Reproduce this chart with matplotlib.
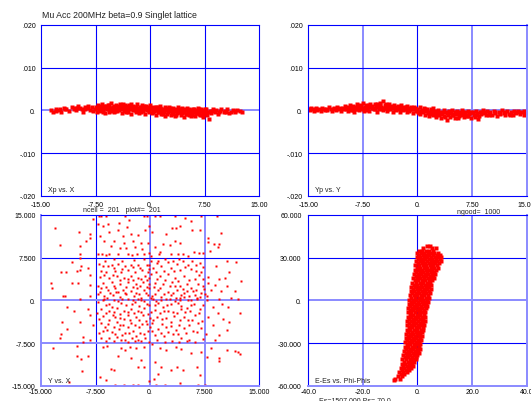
import matplotlib
matplotlib.use('Agg')
import matplotlib.pyplot as plt

plt.rcParams['font.family'] = ['Liberation Sans', 'DejaVu Sans']

W, H = 531, 402
title = 'Mu Acc 200MHz beta=0.9 Singlet lattice'

# tick values / labels
x_ticks = [-15, -7.5, 0, 7.5, 15]
x_labels = ['-15.00', '-7.50', '0.', '7.50', '15.00']
xp_ticks = [-0.02, -0.01, 0, 0.01, 0.02]
xp_labels = ['-.020', '-.010', '0.', '.010', '.020']
yy_ticks = [-15, -7.5, 0, 7.5, 15]
yy_labels = ['-15.000', '-7.500', '0.', '7.500', '15.000']
phi_ticks = [-40, -20, 0, 20, 40]
phi_labels = ['-40.0', '-20.0', '0.', '20.0', '40.0']
de_ticks = [-60, -30, 0, 30, 60]
de_labels = ['-60.000', '-30.000', '0.', '30.000', '60.000']

# Xp vs. X  (x, xp)
xp_x = [(-13.6,.0000),(-13.4,-.0005),(-13.0,.0003),(-12.7,.0001),(-12.4,.0002),(-12.2,-.0004),
        (-11.9,.0006),(-11.5,.0002),(-11.2,-.0002),(-10.8,.0008),(-10.5,.0004),(-10.2,.0000),
        (-10.0,.0005),(-9.9,.0011),(-9.7,.0006),(-9.4,.0003),(-9.2,-.0003),(-8.9,.0009),
        (-8.6,.0005),(-8.3,.0001),(-8.0,.0007),(-7.8,-.0002),(-7.6,.0004),
        (-7.4,.0009),(-7.3,-.0004),(-7.1,.0012),(-7.0,.0003),(-6.9,-.0001),(-6.7,.0007),(-6.6,.0015),
        (-6.5,.0000),(-6.3,.0005),(-6.2,-.0006),(-6.0,.0010),(-5.9,.0002),(-5.8,.0013),(-5.6,-.0003),
        (-5.5,.0006),(-5.4,.0017),(-5.2,.0001),(-5.1,.0009),(-5.0,-.0005),(-4.8,.0004),(-4.7,.0012),
        (-4.6,-.0002),(-4.4,.0007),(-4.3,.0000),(-4.2,.0015),(-4.0,.0003),(-3.9,-.0007),(-3.8,.0010),
        (-3.6,.0005),(-3.5,-.0001),(-3.4,.0013),(-3.2,.0002),(-3.1,.0008),(-3.0,-.0004),(-2.8,.0006),
        (-2.7,.0016),(-2.6,-.0008),(-2.4,.0001),(-2.3,.0011),(-2.2,.0004),(-2.0,-.0003),(-1.9,.0009),
        (-1.8,.0014),(-1.6,.0000),(-1.5,-.0006),(-1.4,.0007),(-1.2,.0003),(-1.1,.0012),(-1.0,-.0002),
        (-0.8,.0005),(-0.7,-.0009),(-0.6,.0010),(-0.4,.0001),(-0.3,.0006),(-0.2,-.0004),(0.0,.0013),
        (0.1,.0002),(0.2,-.0007),(0.4,.0008),(0.5,-.0001),(0.6,.0004),(0.8,-.0011),(0.9,.0009),
        (1.0,.0000),(1.2,-.0005),(1.3,.0006),(1.4,.0011),(1.6,-.0002),(1.7,.0003),(1.8,-.0008),
        (2.0,.0007),(2.1,-.0013),(2.2,.0001),(2.4,.0005),(2.5,-.0004),(2.6,.0009),(2.8,-.0010),
        (2.9,.0002),(3.0,-.0006),(3.2,.0006),(3.3,-.0001),(3.4,-.0014),(3.6,.0003),(3.7,-.0007),
        (3.8,.0008),(4.0,-.0003),(4.1,.0001),(4.2,-.0011),(4.4,.0005),(4.5,-.0005),(4.6,-.0016),
        (4.8,.0002),(4.9,-.0008),(5.0,.0006),(5.2,-.0002),(5.3,-.0012),(5.4,.0003),(5.6,-.0006),
        (5.7,.0000),(5.8,-.0010),(6.0,.0004),(6.1,-.0004),(6.2,-.0014),(6.4,.0001),(6.5,-.0007),
        (6.6,.0005),(6.8,-.0002),(6.9,-.0011),(7.0,.0003),(7.2,-.0005),(7.3,-.0015),(7.4,.0000),
        (7.6,-.0008),(7.7,.0004),(7.9,-.0003),
        (-6.8,.0001),(-6.4,.0011),(-5.7,.0004),(-5.3,-.0002),(-4.9,.0010),(-4.5,.0002),(-4.1,.0006),
        (-3.7,.0014),(-3.3,-.0005),(-2.9,.0003),(-2.5,.0008),(-2.1,.0000),(-1.7,.0005),(-1.3,-.0004),
        (-0.9,.0011),(-0.5,.0003),(-0.1,-.0001),(0.3,.0005),(0.7,.0001),(1.1,-.0003),(1.5,.0004),
        (1.9,-.0004),(2.3,.0003),(2.7,-.0001),(3.1,-.0009),(3.5,.0000),(3.9,-.0005),(4.3,.0002),
        (4.7,-.0003),(5.1,-.0009),(5.5,.0001),(5.9,-.0004),(6.3,-.0001),(6.7,-.0009),(7.1,-.0002),
        (7.5,.0002),(8.1,-.0020),
        (8.2,-.0001),(8.4,-.0006),(8.6,.0003),(8.9,-.0004),(9.1,.0000),(9.3,-.0008),(9.6,-.0002),
        (9.8,.0004),(10.1,-.0005),(10.3,-.0001),(10.6,.0002),(10.8,-.0006),(11.1,-.0003),(11.4,.0001),
        (11.7,-.0004),(12.0,.0000),(12.3,-.0002),(12.6,-.0003),
        (-7.3,.0006),(-6.95,.0010),(-6.45,-.0003),(-6.05,.0007),(-5.65,.0012),(-5.25,.0006),
        (-4.85,-.0001),(-4.45,.0011),(-4.05,.0009),(-3.65,.0001),(-3.25,.0010),(-2.85,.0012),
        (-2.45,.0003),(-2.05,.0007),(-1.65,-.0002),(-1.25,.0009),(-0.85,.0002),(-0.45,.0008),
        (-0.05,.0005),(0.35,-.0004),(0.75,.0007),(1.15,.0004),(1.55,-.0009),(1.95,.0001),
        (2.35,-.0008),(2.75,.0005),(3.15,-.0003),(3.55,-.0011),(3.95,.0004),(4.35,-.0007),
        (4.75,.0001),(5.15,-.0005),(5.55,-.0013),(5.95,.0002),(6.35,-.0006),(6.75,.0002),
        (7.15,-.0010),(7.55,-.0005),(7.85,-.0011),(8.5,-.0002),(9.4,-.0003),(10.4,-.0003),
        (11.6,-.0001),(-9.0,.0002),(-10.3,.0006),(-11.7,.0003),(-8.5,.0010),(-12.9,-.0002)]

# Yp vs. Y  (y, yp)
yp_y = [(-15.0,.0004),(-14.8,.0000),(-14.6,.0006),(-14.4,.0002),(-14.2,-.0002),(-14.0,.0005),
        (-13.8,.0001),(-13.5,.0003),(-13.3,-.0001),(-13.1,.0006),(-12.9,.0002),(-12.6,.0004),
        (-12.4,.0000),(-12.2,.0007),(-11.9,.0003),(-11.7,-.0002),(-11.5,.0005),(-11.2,.0001),
        (-11.0,.0008),(-10.8,.0003),(-10.5,-.0001),(-10.3,.0006),(-10.1,.0002),
        (-9.9,.0010),(-9.8,.0003),(-9.6,-.0002),(-9.5,.0007),(-9.3,.0013),(-9.2,.0001),(-9.0,.0005),
        (-8.9,.0011),(-8.7,-.0003),(-8.6,.0008),(-8.4,.0002),(-8.3,.0015),(-8.1,.0006),(-8.0,.0000),
        (-7.8,.0010),(-7.7,.0004),(-7.5,.0017),(-7.4,-.0002),(-7.2,.0008),(-7.1,.0013),(-6.9,.0003),
        (-6.8,.0009),(-6.6,-.0001),(-6.5,.0016),(-6.3,.0005),(-6.2,.0011),(-6.0,.0002),(-5.9,.0014),
        (-5.7,.0007),(-5.6,-.0004),(-5.4,.0010),(-5.3,.0004),(-5.1,.0018),(-5.0,.0008),(-4.8,.0001),
        (-4.7,.0023),(-4.5,.0012),(-4.4,.0005),(-4.2,-.0002),(-4.1,.0009),(-3.9,.0015),(-3.8,.0003),
        (-3.6,.0011),(-3.5,.0006),(-3.3,-.0003),(-3.2,.0013),(-3.0,.0008),(-2.9,.0001),(-2.7,.0010),
        (-2.6,.0004),(-2.4,-.0005),(-2.3,.0012),(-2.1,.0006),(-2.0,.0000),(-1.8,.0009),(-1.7,.0003),
        (-1.5,-.0004),(-1.4,.0011),(-1.2,.0005),(-1.1,-.0001),(-0.9,.0007),(-0.8,.0002),(-0.6,-.0006),
        (-0.5,.0009),(-0.3,.0003),(-0.2,-.0002),
        (-9.4,.0004),(-8.8,.0000),(-8.2,.0010),(-7.6,.0005),(-7.0,.0000),(-6.4,.0008),(-5.8,.0003),
        (-5.2,.0012),(-4.6,.0006),(-4.0,.0002),(-3.4,.0009),(-2.8,.0005),(-2.2,.0002),(-1.6,.0007),
        (-1.0,.0003),(-0.4,.0005),
        (0.0,.0004),(0.1,-.0003),(0.3,.0008),(0.4,-.0008),(0.6,.0001),(0.7,-.0004),(0.9,.0006),
        (1.0,-.0011),(1.2,-.0001),(1.3,.0003),(1.5,-.0007),(1.6,-.0014),(1.8,.0002),(1.9,-.0004),
        (2.1,-.0010),(2.2,.0005),(2.4,-.0002),(2.5,-.0016),(2.7,-.0006),(2.8,.0000),(3.0,-.0012),
        (3.1,-.0003),(3.3,-.0019),(3.4,-.0008),(3.6,.0001),(3.7,-.0013),(3.9,-.0005),(4.0,-.0022),
        (4.2,-.0010),(4.3,-.0002),(4.5,-.0016),(4.6,-.0007),(4.8,.0000),(4.9,-.0012),(5.1,-.0004),
        (5.2,-.0019),(5.4,-.0009),(5.5,-.0002),(5.7,-.0014),(5.8,-.0006),(6.0,-.0011),(6.1,.0000),
        (6.3,-.0008),(6.4,-.0016),(6.6,-.0004),(6.7,-.0010),(6.9,-.0002),(7.0,-.0013),(7.2,-.0006),
        (7.3,-.0018),
        (0.5,-.0002),(1.1,.0002),(1.7,-.0009),(2.3,-.0005),(2.9,-.0008),(3.5,-.0004),(4.1,-.0006),
        (4.7,-.0011),(5.3,-.0005),(5.9,-.0003),(6.5,-.0007),(7.1,-.0009),
        (7.6,-.0004),(7.8,-.0010),(8.0,-.0001),(8.2,-.0007),(8.4,-.0014),(8.6,-.0003),(8.8,-.0009),
        (9.0,.0001),(9.2,-.0006),(9.4,-.0012),(9.6,-.0002),(9.8,-.0008),(10.0,-.0004),(10.3,-.0011),
        (10.5,-.0001),(10.7,-.0007),(10.9,-.0013),(11.2,-.0003),(11.4,-.0009),(11.6,.0000),
        (11.9,-.0006),(12.1,-.0011),(12.3,-.0002),(12.6,-.0008),(12.8,-.0004),(13.1,-.0010),
        (13.3,-.0001),(13.6,-.0006),(13.8,-.0002),(14.1,-.0009),(14.3,-.0004),(14.6,-.0001),
        (14.8,-.0007),(15.0,-.0003),(8.3,-.0020),(7.9,-.0016),
        (-9.7,.0005),(-9.1,.0009),(-8.5,.0004),(-7.9,.0013),(-7.3,.0002),(-6.7,.0012),(-6.1,.0006),
        (-5.5,.0015),(-4.9,.0004),(-4.3,.0016),(-3.7,.0007),(-3.1,.0003),(-2.5,.0009),(-1.9,.0004),
        (-1.3,.0000),(-0.7,.0004),(-0.1,.0001),(0.2,-.0006),(0.8,-.0001),(1.4,-.0004),(2.0,-.0002),
        (2.6,-.0011),(3.2,-.0006),(3.8,-.0016),(4.4,-.0004),(5.0,-.0008),(5.6,-.0017),(6.2,-.0005),
        (6.8,-.0013),(7.4,-.0003),(8.1,-.0012),(8.7,-.0005),(9.3,-.0003),(9.9,-.0011),(10.6,-.0004),
        (11.3,-.0006),(12.0,-.0003),(12.7,-.0012),(13.4,-.0005),(14.0,-.0005),(14.7,-.0010),
        (-14.9,.0002),(-13.9,.0003),(-12.7,.0001),(-11.4,.0003),(-10.6,.0005)]

# Y vs. X  (x, y)
y_x = [(-7.0,14.9),(-6.7,14.9),(-6.1,14.9),(-3.4,14.9),(-0.9,14.9),(-0.5,14.9),(0.7,14.9),
       (1.3,14.9),(3.4,14.9),(7.0,14.9),(9.2,14.9),(-7.9,14.3),(-2.9,14.2),(4.8,14.5),
       (-13.1,12.65),(-12.4,9.7),(-9.8,12.1),(-9.7,9.6),(-8.3,11.6),(-8.2,10.9),(-8.8,10.4),
       (-9.7,8.1),(-9.6,7.5),(-10.7,6.8),(-9.5,6.0),(-9.7,5.4),(-12.3,4.9),(-11.5,4.9),(-10.1,5.2),
       (-8.6,5.6),(-8.3,4.5),(-13.6,3.1),(-13.5,2.2),(-10.8,3.1),(-9.9,3.1),(-12.0,0.8),(-11.7,0.8),
       (-8.3,0.8),(-8.2,2.7),
       (-7.2,13.4),(-6.5,13.1),(-5.8,13.4),(-4.3,13.65),(-3.2,12.9),(-4.4,12.3),(-2.7,11.6),
       (-1.7,11.5),(-0.7,12.3),(-0.2,13.1),(-5.6,12.1),(-6.9,11.3),(-6.3,10.4),(-4.9,10.5),
       (-3.7,11.3),(-3.6,10.1),(-2.4,10.5),(-1.2,10.1),(-0.3,10.1),(-5.4,9.55),(-4.2,9.25),
       (-3.3,9.25),(-2.1,9.4),(-1.1,9.1),(-1.8,8.2),(-0.8,8.2),(-7.2,8.1),(-6.6,8.2),(-6.0,8.0),
       (-5.6,8.1),(-4.4,8.2),(-3.1,8.1),(-2.5,8.0),(-0.1,8.4),
       (-6.5,6.0),(-5.8,6.0),(-5.3,6.3),(-4.4,6.4),(-3.4,6.0),(-2.7,6.3),(-1.7,6.2),(-0.5,6.3),
       (-6.7,5.15),(-6.0,4.9),(-4.8,5.15),(-4.0,4.9),(-3.1,5.3),(-2.1,5.0),(-1.1,5.3),(-0.3,4.9),
       (-6.9,4.1),(-5.6,4.0),(-4.5,4.3),(-3.6,4.0),(-2.6,4.3),(-1.7,4.0),(-0.7,4.3),
       (-6.5,3.1),(-5.3,3.3),(-4.1,2.9),(-3.1,3.3),(-2.0,2.9),(-1.0,3.3),(-0.1,2.9),
       (-6.8,2.1),(-5.8,1.75),(-4.8,2.2),(-3.7,1.9),(-2.7,1.6),(-1.8,2.1),(-0.8,1.75),
       (-7.2,1.05),(-6.3,0.8),(-5.1,0.9),(-4.2,0.6),(-3.3,1.05),(-2.2,0.8),(-1.2,0.5),(-0.3,0.9),
       (-6.5,0.0),(-4.4,-0.1),(-2.4,0.0),(-0.9,-0.1),
       (3.0,12.8),(3.5,12.7),(4.1,13.1),(5.6,13.9),(0.25,12.1),(2.2,11.7),(5.7,12.3),(6.9,12.3),
       (9.8,11.9),(8.0,11.0),(7.9,10.3),(8.8,9.85),(9.5,9.85),(9.3,9.4),(4.1,10.1),(3.4,10.5),
       (1.8,9.85),(2.7,9.7),(0.6,9.3),(1.4,8.55),(1.2,8.2),(2.8,8.2),(3.8,8.1),(4.5,8.2),
       (6.0,8.55),(6.7,8.4),(7.3,8.4),(5.2,7.8),(0.15,7.8),(8.2,8.7),
       (0.07,6.9),(1.1,7.0),(2.4,6.8),(3.7,6.4),(4.5,6.9),(5.2,6.2),(6.3,6.3),(9.1,6.0),
       (10.5,6.9),(11.8,6.8),(10.8,4.9),(12.5,3.4),(11.7,1.6),(12.1,0.2),
       (0.4,5.7),(1.5,6.0),(2.9,5.6),(4.05,5.3),(5.65,5.45),(7.0,4.9),(7.9,4.1),(9.5,3.7),
       (10.3,3.9),(0.15,4.6),(1.3,4.3),(2.5,4.7),(3.4,4.0),(4.6,4.3),(6.1,3.7),(7.9,3.1),
       (8.9,2.7),(10.5,2.5),(0.6,3.1),(1.8,2.8),(3.0,3.3),(4.05,2.5),(5.1,2.9),(6.6,2.8),
       (7.3,2.5),(1.1,1.75),(2.4,1.5),(3.7,1.9),(4.7,1.35),(5.9,1.65),(7.0,1.35),(8.4,1.75),
       (9.8,1.65),(0.25,0.8),(1.5,0.6),(2.8,0.95),(4.05,0.5),(5.3,0.8),(6.5,0.35),(7.85,0.8),
       (9.4,0.2),(11.1,0.35),(0.85,-0.1),(3.4,-0.1),(5.65,0.0),(-0.16,6.3),(-0.16,4.0),(-0.16,2.2),
       (-9.7,0.3),(-11.4,-1.2),(-10.4,-1.9),(-8.5,-1.6),(-8.3,-2.5),(-12.1,-3.8),(-11.4,-5.0),
       (-9.7,-3.8),(-7.9,-4.4),(-12.3,-5.97),(-12.4,-6.6),(-9.2,-6.4),(-8.3,-7.0),(-9.2,-7.3),
       (-13.4,-8.3),(-10.1,-8.1),(-10.1,-9.7),(-9.5,-10.25),(-8.5,-9.7),(-9.3,-12.4),(-11.2,-14.35),
       (-7.1,-0.3),(-6.3,0.3),(-5.7,-0.6),(-4.9,0.1),(-4.0,-0.5),(-3.0,0.3),(-2.1,-0.3),(-1.2,0.1),
       (-0.5,-0.6),(-6.7,-1.5),(-5.6,-1.8),(-4.5,-1.3),(-3.6,-1.9),(-2.7,-1.5),(-1.7,-1.8),
       (-0.8,-1.3),(-6.5,-2.8),(-5.1,-2.6),(-4.2,-3.04),(-3.1,-2.6),(-2.0,-2.9),(-1.0,-2.6),
       (-0.07,-3.04),(-6.8,-4.0),(-5.8,-4.2),(-4.6,-3.8),(-3.7,-4.4),(-2.6,-4.0),(-1.6,-4.6),
       (-0.5,-4.1),(-6.5,-5.3),(-5.3,-5.6),(-4.3,-5.1),(-3.4,-5.7),(-2.4,-5.3),(-1.4,-5.7),
       (-0.3,-5.3),(-6.7,-6.6),(-5.6,-6.7),(-4.5,-6.4),(-3.5,-6.9),(-2.5,-6.6),(-1.7,-7.0),
       (-0.7,-6.7),(-6.5,-8.2),(-5.9,-8.1),(-4.0,-8.3),(-3.4,-8.7),(-2.8,-8.2),(-1.9,-8.3),
       (-0.85,-8.2),(-4.4,-9.7),(-2.7,-10.1),(-6.9,-13.5),(-5.4,-12.0),(-5.0,-12.2),(-1.7,-11.7),
       (-0.85,-11.7),(-6.0,-14.0),(-4.8,-14.8),(-3.6,-14.9),(-2.4,-14.9),(-1.7,-14.9),(-0.2,-14.1),
       (-1.2,-10.5),
       (0.4,0.3),(1.5,0.0),(2.7,0.3),(4.05,0.1),(5.2,0.0),(6.5,0.3),(7.85,0.1),(9.9,-0.7),
       (10.7,-1.2),(12.3,-2.2),(0.6,-0.9),(1.8,-1.2),(2.9,-0.7),(4.3,-1.05),(5.65,-0.9),(6.8,-1.5),
       (8.6,-1.2),(9.3,-2.3),(0.07,-2.05),(1.3,-2.3),(2.45,-1.9),(3.7,-2.3),(4.8,-2.05),(6.1,-2.6),
       (7.9,-2.9),(10.0,-3.2),(10.9,-3.8),(0.4,-3.5),(1.6,-3.2),(2.8,-3.8),(4.05,-3.5),(5.2,-3.4),
       (6.6,-4.0),(8.6,-4.4),(10.6,-5.15),(-0.07,-4.7),(1.1,-5.0),(2.2,-4.6),(3.5,-5.15),
       (4.6,-4.8),(5.9,-5.3),(7.7,-5.9),(9.5,-6.15),(0.6,-6.15),(1.9,-6.3),(3.1,-6.0),(4.3,-6.6),
       (5.4,-6.9),(8.9,-6.9),(0.25,-7.6),(1.4,-8.3),(2.2,-8.7),(3.5,-8.2),(4.3,-8.5),(5.6,-9.25),
       (7.0,-9.1),(8.4,-8.3),(7.85,-9.95),(9.4,-10.1),(10.5,-8.8),(11.7,-8.9),(9.5,-10.7),
       (0.6,-10.8),(1.5,-11.7),(2.9,-12.2),(3.7,-11.8),(4.5,-12.3),(6.5,-11.7),(1.1,-12.9),
       (0.5,-13.8),(6.9,-13.2),(4.05,-14.5),(0.85,-14.9),(2.0,-14.9),(6.6,-14.9),(7.6,-14.9),
       (12.1,-9.0),(12.4,-9.5),
       (-6.2,7.0),(-4.9,7.2),(-3.8,6.9),(-2.2,7.1),(-0.9,7.3),(0.9,6.5),(2.0,7.3),(3.1,6.9),
       (4.0,7.2),(5.8,7.0),(6.8,6.6),(-7.0,6.4),(-5.0,5.7),(-3.9,5.5),(-2.4,5.8),(-1.4,5.6),
       (-0.2,5.5),(0.8,5.0),(1.9,5.2),(3.3,5.1),(4.8,5.8),(6.3,5.2),(7.2,5.8),(-6.3,4.5),
       (-5.1,4.4),(-4.1,3.6),(-3.0,3.8),(-2.3,3.5),(-1.3,3.7),(-0.4,3.6),(0.9,3.8),(2.1,3.6),
       (3.8,3.4),(5.4,3.6),(6.7,4.4),(7.2,3.7),(-7.1,2.6),(-6.1,2.4),(-5.0,2.6),(-4.4,1.4),
       (-3.3,2.4),(-2.4,2.3),(-1.4,2.5),(-0.5,2.3),(0.5,2.3),(1.4,2.2),(2.7,2.5),(3.4,2.6),
       (4.5,2.0),(5.6,2.2),(6.3,1.9),(7.4,2.0),(-6.9,1.5),(-5.5,1.3),(-4.7,1.5),(-3.5,1.3),
       (-2.0,1.3),(-1.5,1.2),(-0.6,1.3),(0.7,1.2),(1.9,1.1),(3.2,1.3),(4.3,1.0),(5.0,1.6),
       (6.1,1.0),(7.6,1.2),(-5.9,0.4),(-3.8,0.3),(-1.7,0.3),(0.1,0.4),(2.2,0.3),(3.6,0.5),
       (4.7,0.6),(6.9,0.6),(-6.0,-0.8),(-5.2,-1.1),(-3.3,-0.9),(-2.5,-0.7),(-1.6,-1.0),(-0.2,-0.9),
       (1.1,-0.4),(2.3,-0.8),(3.8,-0.5),(5.0,-1.3),(6.0,-0.6),(7.3,-0.9),(-7.3,-2.2),(-6.1,-2.2),
       (-4.9,-2.1),(-4.1,-2.4),(-3.1,-2.0),(-2.2,-2.3),(-1.3,-2.0),(-0.3,-2.4),(0.7,-1.7),
       (1.9,-1.8),(3.1,-2.1),(4.3,-1.6),(5.5,-1.9),(6.7,-2.2),(-7.0,-3.3),(-5.6,-3.4),(-4.8,-3.0),
       (-3.6,-3.3),(-2.8,-3.5),(-1.5,-3.4),(-0.6,-3.6),(0.9,-2.9),(2.2,-3.1),(3.3,-2.8),(4.6,-3.0),
       (5.8,-3.5),(7.1,-3.6),(-6.2,-4.7),(-5.0,-4.6),(-4.2,-4.3),(-3.1,-4.6),(-2.1,-4.3),
       (-1.1,-4.2),(0.2,-4.0),(1.6,-4.2),(2.8,-4.5),(3.9,-4.3),(5.3,-4.3),(7.0,-4.9),(-7.0,-5.8),
       (-5.9,-5.2),(-4.8,-5.9),(-3.9,-6.1),(-2.9,-5.8),(-1.9,-6.2),(-0.9,-5.9),(0.3,-5.4),
       (1.5,-5.7),(2.5,-5.5),(3.8,-5.9),(4.9,-5.8),(6.4,-5.6),(-6.1,-7.2),(-4.9,-7.1),(-4.0,-7.0),
       (-3.0,-7.3),(-2.1,-7.2),(-1.2,-7.1),(-0.2,-7.3),(1.0,-7.0),(2.0,-7.3),(3.0,-7.1),(4.0,-7.4),
       (5.1,-7.1),(6.2,-7.3),(7.2,-6.8)]

# E-Es vs. Phi-Phis: rows of (de, [dphi, ...])
phase_rows = [(38,[3.5,4.5]),(36.5,[2.2,5.5,6.8]),(35,[0.5,1.8,3.0,4.2,5.6]),
              (33.5,[-0.1,1.2,2.5,3.8,5.0,6.2,7.5]),(32,[0.6,1.9,3.2,4.4,5.7,7.0,8.3]),
              (30.5,[-0.3,1.0,2.3,3.6,4.9,6.3,7.6,8.8]),(29,[0.4,1.6,2.9,4.2,5.5,6.8,8.1]),
              (27.5,[-0.5,0.9,2.2,3.5,4.8,6.0,7.3,8.6]),(26,[0.2,1.5,2.8,4.1,5.4,6.6,7.9]),
              (24.5,[-0.8,0.6,1.9,3.2,4.5,5.8,7.1]),(23,[-0.3,1.0,2.3,3.6,4.9,6.2,7.6]),
              (21.5,[-1.0,0.4,1.7,3.0,4.2,5.5,6.8]),(20,[-0.4,0.9,2.2,3.5,4.8,6.1]),
              (18.5,[-1.3,0.1,1.4,2.7,4.0,5.3,6.5]),(17,[-0.7,0.6,1.9,3.2,4.5,5.8]),
              (15.5,[-1.6,-0.2,1.1,2.4,3.7,5.0,6.0]),(14,[-1.0,0.3,1.6,2.9,4.2,5.4]),
              (12.5,[-1.9,-0.5,0.8,2.1,3.4,4.7]),(11,[-1.3,0.0,1.3,2.6,3.9,5.1]),
              (9.5,[-2.2,-0.8,0.5,1.8,3.1,4.4]),(8,[-1.6,-0.3,1.0,2.3,3.6,4.8]),
              (6.5,[-2.5,-1.1,0.2,1.5,2.8,4.1]),(5,[-1.9,-0.6,0.7,2.0,3.3,4.5]),
              (3.5,[-2.8,-1.4,-0.1,1.2,2.5,3.8]),(2,[-2.2,-0.9,0.4,1.7,3.0,4.2]),
              (0.5,[-3.0,-1.7,-0.4,0.9,2.2,3.5]),(-1,[-2.4,-1.1,0.2,1.5,2.8,3.9]),
              (-2.5,[-3.2,-1.9,-0.6,0.7,2.0,3.3]),(-4,[-2.6,-1.3,0.0,1.3,2.6,3.5]),
              (-5.5,[-3.4,-2.1,-0.8,0.5,1.8,3.0]),(-7,[-2.8,-1.5,-0.2,1.1,2.4]),
              (-8.5,[-3.5,-2.2,-0.9,0.4,1.7,2.9]),(-10,[-2.9,-1.6,-0.3,1.0,2.3]),
              (-11.5,[-3.6,-2.3,-1.0,0.3,1.6,2.8]),(-13,[-3.0,-1.7,-0.4,0.9,2.2]),
              (-14.5,[-3.7,-2.4,-1.1,0.2,1.5,2.6]),(-16,[-3.1,-1.8,-0.5,0.8,2.0]),
              (-17.5,[-3.8,-2.5,-1.2,0.1,1.4,2.4]),(-19,[-3.2,-1.9,-0.6,0.7,1.9]),
              (-20.5,[-3.9,-2.6,-1.3,0.0,1.3,2.2]),(-22,[-3.3,-2.0,-0.7,0.6,1.7]),
              (-23.5,[-4.1,-2.8,-1.5,-0.2,1.0]),(-25,[-3.5,-2.2,-0.9,0.4,1.6]),
              (-26.5,[-4.3,-3.0,-1.7,-0.4,0.8]),(-28,[-3.7,-2.4,-1.1,0.2,1.4]),
              (-29.5,[-4.5,-3.2,-1.9,-0.6,0.6]),(-31,[-3.9,-2.6,-1.3,0.0,1.1]),
              (-32.5,[-4.7,-3.4,-2.1,-0.8,0.4]),(-34,[-4.1,-2.8,-1.5,-0.2,0.8]),
              (-35.5,[-4.9,-3.6,-2.3,-1.0,0.2]),(-37,[-4.3,-3.0,-1.7,-0.4,0.5]),
              (-38.5,[-5.2,-3.9,-2.6,-1.3,0.0]),(-40,[-4.6,-3.3,-2.0,-0.7]),
              (-41.5,[-5.5,-4.2,-2.9,-1.6,-0.5]),(-43,[-4.9,-3.6,-2.3,-1.2]),
              (-44.5,[-5.8,-4.5,-3.2,-1.9]),(-46,[-5.2,-3.9,-2.7,-1.6]),
              (-47.5,[-6.2,-4.9,-3.6,-2.4]),(-49,[-5.6,-4.3,-3.1]),(-50.5,[-6.6,-5.3,-4.0]),
              (-52,[-6.0,-4.8]),(-53.5,[-7.0,-5.7]),(-55,[-8.3,-6.3]),(-56,[-8.6])]

DARK, LIGHT = '#0000ff', '#8a8aff'


def fx(px):
    return px / W


def fy(py):
    return 1 - py / H


def panel(rect, xt, xl, yt, yl, light_v, light_h, light_sp, xpad, ypad):
    ax = fig.add_axes(rect)
    ax.set_xlim(xt[0], xt[-1])
    ax.set_ylim(yt[0], yt[-1])
    ax.set_xticks(xt)
    ax.set_xticklabels(xl)
    ax.set_yticks(yt)
    ax.set_yticklabels(yl)
    ax.tick_params(axis='x', length=0, labelsize=5, pad=xpad)
    ax.tick_params(axis='y', length=0, labelsize=5, pad=ypad)
    for i, t in enumerate(xt[1:-1]):
        lt = i in light_v
        ax.axvline(t, color=LIGHT if lt else DARK, lw=1.4 if lt else 0.8, zorder=1)
    for i, t in enumerate(yt[1:-1]):
        lt = i in light_h
        ax.axhline(t, color=LIGHT if lt else DARK, lw=1.4 if lt else 0.8, zorder=1)
    for side, sp in ax.spines.items():
        lt = side in light_sp
        sp.set_color(LIGHT if lt else DARK)
        sp.set_linewidth(1.4 if lt else 0.8)
        sp.set_zorder(3)
    return ax


fig = plt.figure(figsize=(W / 100, H / 100), dpi=100)

pw, ph = 218.3 / W, 170.7 / H
ax1 = panel([fx(41), fy(196.7), pw, ph], x_ticks, x_labels, xp_ticks, xp_labels,
            [], [1], [], 3.6, 3.8)
ax2 = panel([fx(308.3), fy(196.7), pw, ph], x_ticks, x_labels, xp_ticks, xp_labels,
            [0, 2], [1], ['right'], 3.6, 3.8)
ax3 = panel([fx(41), fy(386.7), pw, ph], yy_ticks, yy_labels, yy_ticks, yy_labels,
            [1, 2], [1, 0], ['left', 'bottom'], 1.8, 3.8)
ax4 = panel([fx(308.3), fy(386.7), pw, ph], phi_ticks, phi_labels, de_ticks, de_labels,
            [0, 2], [1], ['right', 'bottom'], 1.8, 4.8)

mk = dict(ls='none', marker='s', color='#ff0000', mec='none', zorder=2, clip_on=True)
ax1.plot([p[0] for p in xp_x], [p[1] for p in xp_x], ms=2.4, **mk)
ax2.plot([p[0] for p in yp_y], [p[1] for p in yp_y], ms=2.4, **mk)
ax3.plot([p[0] for p in y_x], [p[1] for p in y_x], ms=1.5, **mk)
ph_x = [v for de, row in phase_rows for v in row]
ph_y = [de for de, row in phase_rows for v in row]
ax4.plot(ph_x, ph_y, ms=2.7, **mk)

lab = dict(fontsize=5, va='center', color='#222222')
ax1.text(0.032, 0.036, 'Xp vs. X', transform=ax1.transAxes, **lab)
ax2.text(0.032, 0.036, 'Yp vs. Y', transform=ax2.transAxes, **lab)
ax3.text(0.032, 0.033, 'Y vs. X', transform=ax3.transAxes, **lab)
ax4.text(0.032, 0.033, 'E-Es vs. Phi-Phis', transform=ax4.transAxes, **lab)

fig.text(fx(42), fy(15), title, fontsize=6.3, va='center', color='#222222')
fig.text(fx(83), fy(211), 'ncell =  201   plot#=  201', fontsize=5, va='center', color='#222222')
fig.text(fx(457), fy(212), 'ngood=  1000', fontsize=5, va='center', color='#222222')
fig.text(fx(319), fy(398), 'Es=1507.000 Ps= 70.0', fontsize=5, va='top', color='#222222')

fig.savefig('out.png', dpi=100)
